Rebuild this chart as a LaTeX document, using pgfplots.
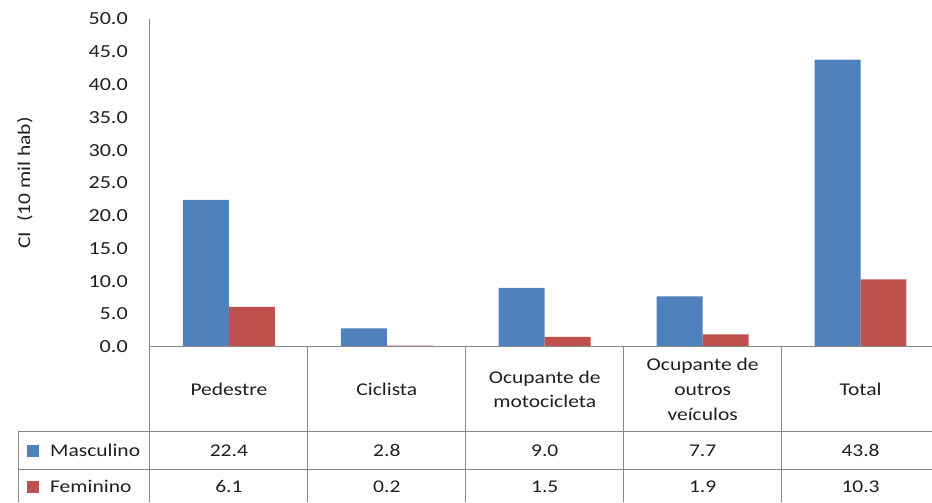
\documentclass[border=0pt]{standalone}
\usepackage{pgfplots}
\pgfplotsset{compat=1.18}
\usepackage{fontspec}
\setmainfont{Carlito}[FakeStretch=1.2]
\definecolor{mblue}{HTML}{4F81BD}
\definecolor{fred}{HTML}{C0504D}
\definecolor{grid}{HTML}{878787}
\definecolor{txt}{HTML}{1F1F1F}
\begin{document}
\fontsize{18}{22}\selectfont
\begin{tikzpicture}[x=1bp,y=1bp]
\begin{axis}[
    scale only axis,
    width=782bp, height=328bp,
    ybar=0pt, bar width=46bp,
    xmin=-0.5, xmax=4.45,
    ymin=0, ymax=50,
    ytick distance=5,
    xtick=\empty,
    axis lines*=left,
    axis on top,
    axis line style={grid, line width=0.9pt},
    major tick length=0pt,
    yticklabel style={anchor=east, inner sep=0pt, xshift=-22bp, text=txt, font=\fontsize{18.5}{22}\selectfont},
    /pgf/number format/.cd, fixed, fixed zerofill, precision=1, assume math mode=true,
    /pgfplots/.cd,
    ylabel={CI\ \ (10 mil hab)},
    every axis y label/.style={at={(axis description cs:-0.16,0.5)}, rotate=90, anchor=center, text=txt, font=\fontsize{18}{22}\selectfont},
    clip=false,
]
\addplot[fill=mblue, draw=none] coordinates {(0,22.4) (1,2.8) (2,9.0) (3,7.7) (4,43.8)};
\addplot[fill=fred, draw=none] coordinates {(0,6.1) (1,0.2) (2,1.5) (3,1.9) (4,10.3)};
\end{axis}
% data table below the axis
\begin{scope}[grid, line width=0.9pt]
\draw (0,0) -- (0,-155);
\foreach \x in {158,316,474,632} \draw (\x,0) -- (\x,-155);
\draw (-132,-85) -- (782,-85);
\draw (-132,-123) -- (782,-123);
\draw (-132,-85) -- (-132,-155);
\end{scope}
\begin{scope}[text=txt, align=center, font=\fontsize{18}{25}\selectfont]
\node at (79,-42.5) {Pedestre};
\node at (237,-42.5) {Ciclista};
\node at (395,-42.5) {Ocupante de\\motocicleta};
\node at (553,-42.5) {Ocupante de\\outros\\veículos};
\node at (711,-42.5) {Total};
\fill[mblue] (-123,-110) rectangle (-111,-98);
\node[anchor=west] at (-106,-104) {Masculino};
\fill[fred] (-123,-146) rectangle (-111,-134);
\node[anchor=west] at (-106,-140) {Feminino};
\foreach \v [count=\i from 0] in {22.4,2.8,9.0,7.7,43.8}
  \node at (79+158*\i,-104) {\v};
\foreach \v [count=\i from 0] in {6.1,0.2,1.5,1.9,10.3}
  \node at (79+158*\i,-140) {\v};
\end{scope}
\useasboundingbox (-150,-155) rectangle (782,347);
\end{tikzpicture}
\end{document}
